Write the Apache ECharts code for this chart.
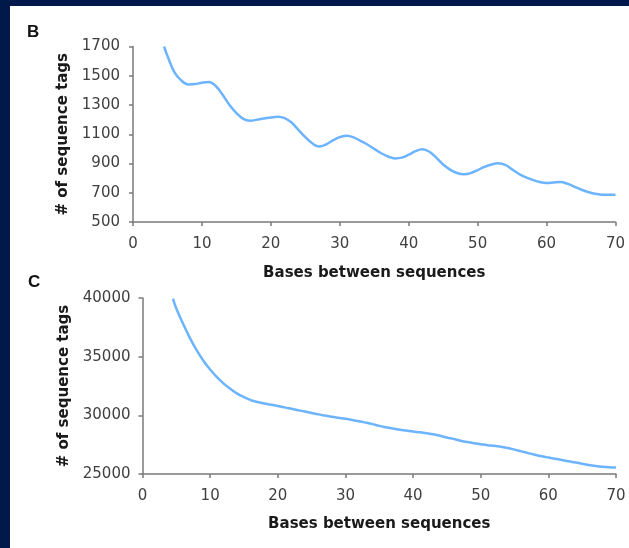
<!DOCTYPE html>
<html>
<head>
<meta charset="utf-8">
<script src="https://cdn.jsdelivr.net/npm/echarts@6/dist/echarts.min.js"></script>
<style>
  html, body { margin: 0; padding: 0; background: #00194a; width: 629px; height: 548px; overflow: hidden; }
  #chart { position: absolute; left: 10px; top: 6px; width: 619px; height: 542px; background: #ffffff; }
</style>
</head>
<body>
<div id="chart"></div>
<script>
// x positions (bases between sequences)
const xValues = [4.5, 5, 6, 7, 8, 9, 10, 11, 12, 13, 14, 15, 16, 17, 18, 19, 20,
  21, 22, 23, 24, 25, 26, 27, 28, 29, 30, 31, 32, 33, 34, 35, 36, 37, 38, 39, 40,
  41, 42, 43, 44, 45, 46, 47, 48, 49, 50, 51, 52, 53, 54, 55, 56, 57, 58, 59, 60,
  61, 62, 63, 64, 65, 66, 67, 68, 69, 70];

// Panel B: # of sequence tags
const tagsB = [1700, 1635, 1525, 1468, 1441, 1443, 1452, 1457, 1430, 1370, 1300, 1245, 1205, 1193, 1200, 1207, 1215,
  1220, 1210, 1180, 1130, 1080, 1038, 1016, 1030, 1058, 1080, 1090, 1079, 1055, 1030, 1000, 970, 948, 935, 940, 960,
  985, 997, 980, 940, 893, 858, 835, 826, 834, 855, 877, 893, 901, 890, 860, 828, 805, 788, 774, 767,
  770, 773, 762, 742, 722, 705, 693, 687, 686, 687];

// Panel C: # of sequence tags
const tagsC = [39950, 39100, 37800, 36600, 35550, 34650, 33900, 33250, 32700, 32250, 31850, 31550, 31300, 31130, 31000, 30900, 30790,
  30680, 30560, 30440, 30320, 30200, 30080, 29980, 29880, 29790, 29700, 29600, 29500, 29380, 29250, 29100, 28980, 28870, 28780, 28700, 28620,
  28550, 28470, 28380, 28260, 28110, 27980, 27840, 27720, 27620, 27540, 27460, 27400, 27320, 27220, 27080, 26930, 26780, 26640, 26510, 26400,
  26300, 26190, 26080, 25980, 25870, 25760, 25680, 25620, 25580, 25560];

const panelLabels = ['B', 'C'];
const xAxisTitle = 'Bases between sequences';
const yAxisTitle = '# of sequence tags';

const FONT = 'DejaVu Sans';
const axisColor = '#7a7a7a';
const labelColor = '#404040';
const lineColor = '#6db4ff';

function xAxisCfg(gridIndex, gap) {
  return {
    type: 'value', gridIndex: gridIndex, min: 0, max: 70, interval: 10,
    name: xAxisTitle, nameLocation: 'middle', nameGap: gap,
    nameTextStyle: { fontFamily: FONT, fontWeight: 'bold', fontSize: 15, color: '#1a1a1a' },
    axisLine: { show: true, lineStyle: { color: axisColor, width: 1.5 } },
    axisTick: { show: true, inside: false, length: 4, lineStyle: { color: axisColor, width: 1.5 } },
    axisLabel: { fontFamily: FONT, fontSize: 15, color: labelColor, margin: 15, formatter: v => String(v) },
    splitLine: { show: false }
  };
}
function yAxisCfg(gridIndex, min, max, interval, gap, margin) {
  return {
    type: 'value', gridIndex: gridIndex, min: min, max: max, interval: interval,
    name: yAxisTitle, nameLocation: 'middle', nameGap: gap, nameRotate: 90,
    nameTextStyle: { fontFamily: FONT, fontWeight: 'bold', fontSize: 15, color: '#1a1a1a' },
    axisLine: { show: true, lineStyle: { color: axisColor, width: 1.5 } },
    axisTick: { show: true, inside: false, length: 4, lineStyle: { color: axisColor, width: 1.5 } },
    axisLabel: { fontFamily: FONT, fontSize: 15, color: labelColor, margin: margin, formatter: v => String(v) },
    splitLine: { show: false }
  };
}

const chart = echarts.init(document.getElementById('chart'), null, { renderer: 'canvas' });
chart.setOption({
  animation: false,
  backgroundColor: '#ffffff',
  grid: [
    { left: 123, top: 40.5, width: 482.5, height: 175.5 },
    { left: 132.5, top: 292, width: 473.5, height: 176 }
  ],
  graphic: [
    { type: 'text', left: 17, top: 18, style: { text: panelLabels[0], font: 'bold 17px "Liberation Sans", Arial', fill: '#111' } },
    { type: 'text', left: 18, top: 268, style: { text: panelLabels[1], font: 'bold 17px "Liberation Sans", Arial', fill: '#111' } }
  ],
  xAxis: [xAxisCfg(0, 44), xAxisCfg(1, 43)],
  yAxis: [yAxisCfg(0, 500, 1700, 200, 55, 13), yAxisCfg(1, 25000, 40000, 5000, 65, 12)],
  series: [
    {
      type: 'line', xAxisIndex: 0, yAxisIndex: 0, smooth: 0.4, showSymbol: false,
      lineStyle: { color: lineColor, width: 2.5 },
      data: xValues.map((x, i) => [x, tagsB[i]])
    },
    {
      type: 'line', xAxisIndex: 1, yAxisIndex: 1, smooth: 0.4, showSymbol: false,
      lineStyle: { color: lineColor, width: 2.5 },
      data: xValues.map((x, i) => [x, tagsC[i]])
    }
  ]
});
</script>
</body>
</html>
